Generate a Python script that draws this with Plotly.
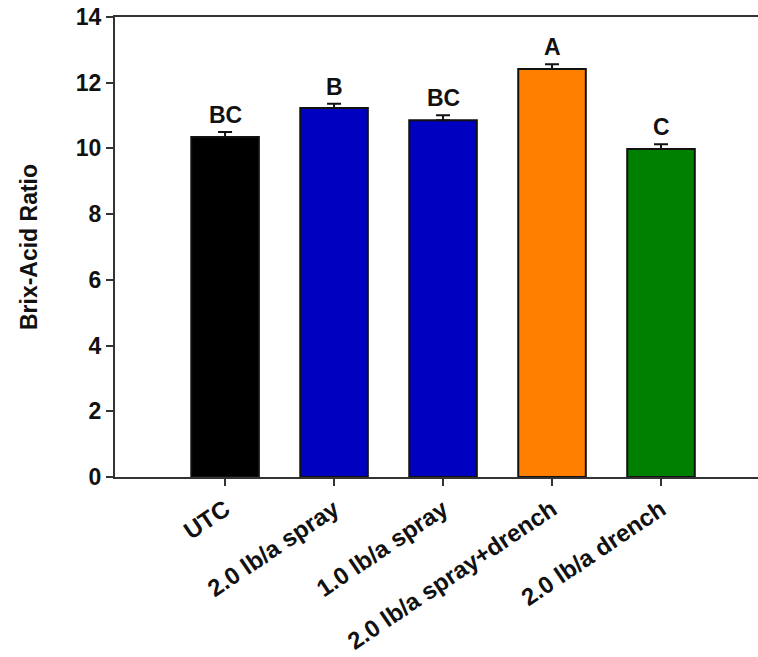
import plotly.graph_objects as go

categories = ["UTC", "2.0 lb/a spray", "1.0 lb/a spray", "2.0 lb/a spray+drench", "2.0 lb/a drench"]
ratio = [10.35, 11.23, 10.86, 12.42, 9.98]
sem = [0.15, 0.13, 0.15, 0.14, 0.15]
letters = ["BC", "B", "BC", "A", "C"]
bar_colors = ["#000000", "#0000C0", "#0000C0", "#FF8000", "#008000"]
y_ticks = [0, 2, 4, 6, 8, 10, 12, 14]

FONT = "Liberation Sans"

fig = go.Figure()
fig.add_trace(go.Bar(
    x=list(range(len(categories))),
    y=ratio,
    width=0.62,
    marker=dict(color=bar_colors, line=dict(color="#111111", width=2)),
    error_y=dict(type="data", array=sem, arrayminus=[0] * len(sem), symmetric=False,
                 color="#111111", thickness=2, width=7),
    showlegend=False,
))

for i, (v, e, t) in enumerate(zip(ratio, sem, letters)):
    fig.add_annotation(x=i, y=v + e, text="<b>%s</b>" % t, showarrow=False,
                       yanchor="bottom", yshift=2,
                       font=dict(family=FONT, size=23, color="#111111"))

fig.update_layout(
    width=758, height=657,
    margin=dict(l=115, r=0, t=17, b=180),
    plot_bgcolor="white", paper_bgcolor="white",
    bargap=0.38,
    font=dict(family=FONT, color="#111111"),
)
fig.update_xaxes(
    range=[-1.01, 4.89],
    tickmode="array", tickvals=list(range(len(categories))),
    ticktext=["<b>%s</b>" % c for c in categories],
    tickangle=-34, tickfont=dict(family=FONT, size=24, color="#111111"),
    showline=True, linecolor="#333333", linewidth=2, mirror=True,
    ticks="outside", ticklen=7, tickwidth=2, tickcolor="#333333",
    showgrid=False, zeroline=False,
)
fig.update_yaxes(
    range=[0, 14],
    tickmode="array", tickvals=y_ticks, ticktext=["<b>%d</b>" % t for t in y_ticks],
    tickfont=dict(family=FONT, size=23, color="#111111"),
    showline=True, linecolor="#333333", linewidth=2,
    ticks="outside", ticklen=7, tickwidth=2, tickcolor="#333333",
    showgrid=False, zeroline=False,
    title=dict(text="<b>Brix-Acid Ratio</b>", font=dict(family=FONT, size=23, color="#111111"),
               standoff=32),
)

fig.write_html("out.html")
